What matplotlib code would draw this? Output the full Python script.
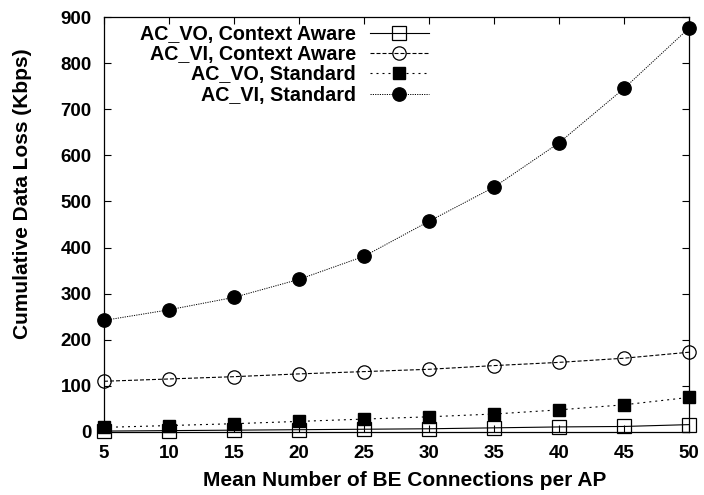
import matplotlib
matplotlib.use("Agg")
import matplotlib.pyplot as plt

x = [5, 10, 15, 20, 25, 30, 35, 40, 45, 50]
vo_ca = [2, 3, 4, 5, 6, 7, 9, 11, 12, 16]
vi_ca = [110, 115, 120, 126, 131, 136, 144, 151, 160, 173]
vo_std = [10, 14, 18, 23, 28, 33, 39, 48, 59, 75]
vi_std = [242, 265, 292, 331, 381, 457, 531, 627, 745, 876]
labels = ["AC_VO, Context Aware", "AC_VI, Context Aware", "AC_VO, Standard", "AC_VI, Standard"]

plt.rcParams['font.family'] = ['Liberation Sans', 'DejaVu Sans']
plt.rcParams['font.weight'] = 'bold'

W, H = 704, 495
fig = plt.figure(figsize=(W / 100, H / 100), dpi=100)
L, R, T, B = 104, 689, 17, 432
ax = fig.add_axes([L / W, 1 - B / H, (R - L) / W, (B - T) / H])

common = dict(color='black', clip_on=False)
ax.plot(x, vo_ca, '-', lw=0.8, marker='s', ms=9.4, mfc='none', mec='black', mew=0.9,
        label=labels[0], zorder=3, **common)
ax.plot(x, vi_ca, '--', lw=0.8, dashes=(3.6, 1.8), marker='o', ms=9.6, mfc='none', mec='black',
        mew=0.9, label=labels[1], zorder=3, **common)
ax.plot(x, vo_std, ':', lw=0.8, dashes=(1.8, 3.6), marker='s', ms=9.2, mfc='black', mec='black',
        label=labels[2], zorder=4, **common)
ax.plot(x, vi_std, ':', lw=0.7, dashes=(1.2, 1.2), marker='o', ms=9.6, mfc='black', mec='black',
        label=labels[3], zorder=4, **common)

ax.set_xlim(5, 50)
ax.set_ylim(0, 900)
ax.set_xticks(x)
ax.set_yticks(range(0, 901, 100))
ax.tick_params(direction='in', top=True, right=True, length=5, width=0.8, labelsize=13.5, pad=9)
for lab in ax.get_xticklabels() + ax.get_yticklabels():
    lab.set_fontweight('bold')
for s in ax.spines.values():
    s.set_linewidth(0.9)

ax.set_xlabel("Mean Number of BE Connections per AP", fontsize=15, fontweight='bold')
ax.xaxis.set_label_coords((405 - L) / (R - L), -(481 - B) / (B - T))
ax.xaxis.label.set_va('center')
ax.set_ylabel("Cumulative Data Loss (Kbps)", fontsize=15, fontweight='bold')
ax.yaxis.set_label_coords(-(L - 23) / (R - L), (B - 194) / (B - T))
ax.yaxis.label.set_va('center')

leg = fig.legend(loc='upper right', bbox_to_anchor=(429 / W, 1 - 25 / H), frameon=False,
                 markerfirst=False, handlelength=3.0, labelspacing=0.06, handletextpad=0.72,
                 borderpad=0, borderaxespad=0, prop={'weight': 'bold', 'size': 14.2})

fig.savefig("out.png", dpi=100)
